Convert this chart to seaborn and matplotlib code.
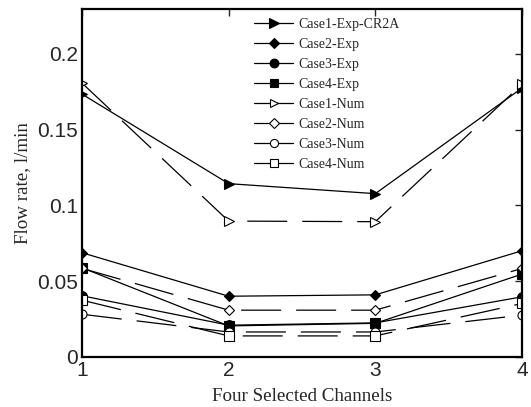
import numpy as np
import pandas as pd
import matplotlib
matplotlib.use("Agg")
import matplotlib.pyplot as plt
from matplotlib.lines import Line2D
from matplotlib.ticker import FormatStrFormatter
import seaborn as sns

channels = [1, 2, 3, 4]

case1_exp = [0.1735, 0.1144, 0.1078, 0.1775]
case2_exp = [0.0688, 0.0401, 0.0410, 0.0701]
case3_exp = [0.0404, 0.0210, 0.0225, 0.0397]
case4_exp = [0.0589, 0.0205, 0.0222, 0.0547]
case1_num = [0.1808, 0.0897, 0.0893, 0.1800]
case2_num = [0.0585, 0.0309, 0.0309, 0.0584]
case3_num = [0.0282, 0.0165, 0.0165, 0.0276]
case4_num = [0.0375, 0.0139, 0.0139, 0.0353]

labels = ["Case1-Exp-CR2A", "Case2-Exp", "Case3-Exp", "Case4-Exp",
          "Case1-Num", "Case2-Num", "Case3-Num", "Case4-Num"]
series = [case1_exp, case2_exp, case3_exp, case4_exp,
          case1_num, case2_num, case3_num, case4_num]
markers = [">", "D", "o", "s", ">", "D", "o", "s"]
sizes = [7.5, 5.5, 7, 6.5, 7, 5.5, 6.5, 6.5]

df = pd.DataFrame({
    "channel": np.tile(channels, len(labels)),
    "flow": np.concatenate(series),
    "case": np.repeat(labels, len(channels)),
})

sns.set_style("white")
plt.rcParams["font.family"] = ["Liberation Sans", "DejaVu Sans"]

fig = plt.figure(figsize=(5.31, 4.07), dpi=100)
ax = fig.add_axes([0.1544, 0.1229, 0.8286, 0.8562])

handles = []
for i, lab in enumerate(labels):
    sub = df[df["case"] == lab]
    filled = "Exp" in lab
    fc = "black" if filled else "white"
    sns.lineplot(data=sub, x="channel", y="flow", ax=ax, color="black",
                 marker=markers[i], markersize=sizes[i], markerfacecolor=fc,
                 markeredgecolor="black", markeredgewidth=0.8, linewidth=0.9,
                 legend=False)
    line = ax.lines[-1]
    if not filled:
        line.set_dashes((32, 12))
    handles.append(Line2D([], [], color="black", linewidth=0.9,
                          marker=markers[i], markersize=sizes[i] * 0.9,
                          markerfacecolor=fc, markeredgecolor="black",
                          markeredgewidth=0.8))

ax.set_xlim(1, 4)
ax.set_ylim(0, 0.23)
ax.set_xticks(channels)
ax.set_yticks([0, 0.05, 0.1, 0.15, 0.2])
ax.yaxis.set_major_formatter(FormatStrFormatter("%g"))
ax.tick_params(direction="in", length=5, width=1, labelsize=15,
               top=True, right=True)
ax.tick_params(axis="x", pad=3)
ax.tick_params(axis="y", pad=3)
for s in ax.spines.values():
    s.set_linewidth(1.6)
    s.set_color("black")

ax.set_xlabel("Four Selected Channels", family="Liberation Serif",
              fontsize=13.7, labelpad=6)
ax.set_ylabel("Flow rate, l/min", family="Liberation Serif",
              fontsize=13.7, labelpad=4)

ax.legend(handles, labels, loc="upper left", bbox_to_anchor=(0.392, 0.972),
          frameon=False, prop={"family": "Liberation Serif", "size": 10},
          handlelength=2.8, handletextpad=0.35, labelspacing=0.5,
          borderaxespad=0, borderpad=0)

plt.savefig("out.png", dpi=100)
